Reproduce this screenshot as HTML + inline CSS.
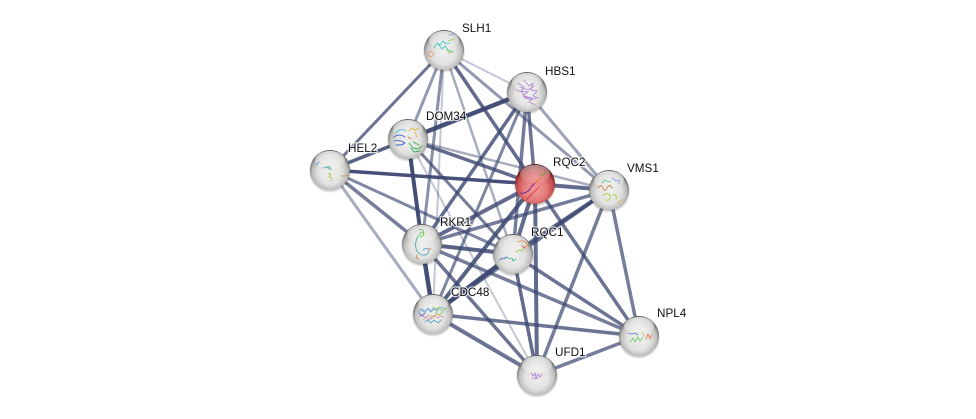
<!DOCTYPE html>
<html><head><meta charset="utf-8"><style>
html,body{margin:0;padding:0;background:#fff;width:976px;height:419px;overflow:hidden}
svg{display:block}
text{font-family:"Liberation Sans",sans-serif;font-size:11.7px;fill:#111;paint-order:stroke;stroke:#fff;stroke-width:2.5px;stroke-opacity:.75}
.a{stroke:#3b4670;fill:none}
.s{fill:none;stroke-width:.9;stroke-linecap:round;stroke-linejoin:round}
</style></head><body>
<svg width="976" height="419" viewBox="0 0 976 419" xmlns="http://www.w3.org/2000/svg">
<defs>
<radialGradient id="g" cx="50%" cy="56%" r="54%">
<stop offset="0" stop-color="#f0f0ee"/><stop offset=".55" stop-color="#e2e2e0"/><stop offset=".82" stop-color="#bdbdbb"/><stop offset=".94" stop-color="#7f7f7f"/><stop offset="1" stop-color="#5f5f5f"/>
</radialGradient>
<radialGradient id="r" cx="50%" cy="62%" r="58%">
<stop offset="0" stop-color="#f09a9a"/><stop offset=".5" stop-color="#e57c7c"/><stop offset=".8" stop-color="#bf4a4a"/><stop offset=".94" stop-color="#7f2222"/><stop offset="1" stop-color="#5f1c1c"/>
</radialGradient>
<linearGradient id="h" x1="0" y1="0" x2="0" y2="1">
<stop offset="0" stop-color="#fff" stop-opacity=".95"/><stop offset="1" stop-color="#fff" stop-opacity=".1"/>
</linearGradient>
<radialGradient id="sh" cx="50%" cy="50%" r="50%">
<stop offset=".8" stop-color="#000" stop-opacity=".35"/><stop offset="1" stop-color="#000" stop-opacity="0"/>
</radialGradient>
<g id="n"><circle r="21.5" cy="1.5" fill="url(#sh)"/><circle r="20" fill="url(#g)"/></g>
<g id="o"><ellipse cy="-10" rx="15" ry="9" fill="url(#h)" opacity=".8"/></g>
</defs>

<g class="a">
<!-- SLH1 -->
<path d="M444 50L330 170" stroke-width="3" opacity=".75"/>
<path d="M444 50L408 139" stroke-width="3" opacity=".55"/>
<path d="M444 50L422 244" stroke-width="3" opacity=".6"/>
<path d="M444 50L433 314" stroke-width="2" opacity=".3"/>
<path d="M444 50L527 92" stroke-width="2" opacity=".3"/>
<path d="M444 50L535 184" stroke-width="3.5" opacity=".8"/>
<path d="M444 50L609 190" stroke-width="3" opacity=".55"/>
<path d="M444 50L513 254" stroke-width="2.5" opacity=".45"/>
<!-- HBS1 -->
<path d="M527 92L408 139" stroke-width="4.5" opacity=".95"/>
<path d="M527 92L535 184" stroke-width="3.5" opacity=".75"/>
<path d="M527 92L513 254" stroke-width="3.5" opacity=".7"/>
<path d="M527 92L609 190" stroke-width="3" opacity=".5"/>
<path d="M527 92L422 244" stroke-width="3.5" opacity=".8"/>
<path d="M527 92L433 314" stroke-width="3" opacity=".65"/>
<!-- DOM34 -->
<path d="M408 139L330 170" stroke-width="3.5" opacity=".85"/>
<path d="M408 139L535 184" stroke-width="3.5" opacity=".8"/>
<path d="M408 139L609 190" stroke-width="2.5" opacity=".45"/>
<path d="M408 139L422 244" stroke-width="4" opacity=".95"/>
<path d="M408 139L513 254" stroke-width="3" opacity=".7"/>
<path d="M408 139L433 314" stroke-width="1.5" opacity=".3"/>
<path d="M408 139L537 375" stroke-width="2" opacity=".3"/>
<!-- HEL2 -->
<path d="M330 170L535 184" stroke-width="3.5" opacity=".95"/>
<path d="M330 170L422 244" stroke-width="3.5" opacity=".7"/>
<path d="M330 170L513 254" stroke-width="3" opacity=".65"/>
<path d="M330 170L433 314" stroke-width="3" opacity=".45"/>
<!-- RQC2 -->
<path d="M535 184L609 190" stroke-width="4" opacity=".8"/>
<path d="M535 184L422 244" stroke-width="4" opacity=".8"/>
<path d="M535 184L513 254" stroke-width="4" opacity=".8"/>
<path d="M535 184L433 314" stroke-width="4" opacity=".85"/>
<path d="M535 184L537 375" stroke-width="4" opacity=".8"/>
<path d="M535 184L639 336" stroke-width="3.5" opacity=".75"/>
<!-- VMS1 -->
<path d="M609 190L422 244" stroke-width="3.5" opacity=".7"/>
<path d="M609 190L513 254" stroke-width="4" opacity=".85"/>
<path d="M609 190L433 314" stroke-width="3.5" opacity=".7"/>
<path d="M609 190L537 375" stroke-width="3.5" opacity=".7"/>
<path d="M609 190L639 336" stroke-width="3.5" opacity=".7"/>
<!-- RKR1 -->
<path d="M422 244L513 254" stroke-width="4" opacity=".85"/>
<path d="M422 244L433 314" stroke-width="4.5" opacity=".95"/>
<path d="M422 244L537 375" stroke-width="3.5" opacity=".75"/>
<path d="M422 244L639 336" stroke-width="3.5" opacity=".7"/>
<!-- RQC1 -->
<path d="M513 254L433 314" stroke-width="4.5" opacity=".95"/>
<path d="M513 254L537 375" stroke-width="3.5" opacity=".8"/>
<path d="M513 254L639 336" stroke-width="3.5" opacity=".75"/>
<!-- CDC48 -->
<path d="M433 314L537 375" stroke-width="4" opacity=".75"/>
<path d="M433 314L639 336" stroke-width="3.5" opacity=".75"/>
<!-- UFD1 -->
<path d="M537 375L639 336" stroke-width="3.5" opacity=".7"/>
</g>

<!-- SLH1 -->
<g transform="translate(444,50)"><use href="#n"/><use href="#o"/>
<path class="s" d="M-10 -2l3 -5 3 2 3 -4 3 3 4 -1M-6 -6l4 5 3 -3 3 4 5 2" stroke="#3cc8c0" stroke-width="1.6"/>
<path class="s" d="M3 0l3 3 2 -2M4 -9l6 -2" stroke="#a6c850"/>
<circle cx="-13" cy="4" r="2.5" class="s" stroke="#d89a70"/>
<path class="s" d="M5 -15l5 -1" stroke="#8fa0e0"/>
</g>
<!-- HBS1 -->
<g transform="translate(527,92)"><use href="#n"/><use href="#o"/>
<path class="s" d="M-9 -9l6 4 -3 4 7 1 -5 4 9 2 -3 4 6 3M-3 -12l5 6 4 -3 -2 7 6 1 -4 5 5 2M-11 -2l6 2 3 6 5 1M-7 -5l8 3 6 -4M-3 4l7 4 5 -2" stroke="#b48ad8"/>
</g>
<!-- DOM34 -->
<g transform="translate(408,139)"><use href="#n"/><use href="#o"/>
<path class="s" d="M-14 -2c4 -3 8 -2 11 0M-14 2c4 -1 8 0 11 2M-12 6c4 0 7 0 9 -2" stroke="#3f62c8" stroke-width="1.4"/>
<path class="s" d="M-12 -6c3 -4 7 -4 10 -2" stroke="#45b8d8"/>
<path class="s" d="M1 -8l3 -3 3 2 3 -2M7 -7l2 5" stroke="#e8b030" stroke-width="1.2"/>
<path class="s" d="M1 4l4 5 5 1 4 -3M3 9l3 4 6 -1M5 3l6 3" stroke="#38b050" stroke-width="1.3"/>
<path class="s" d="M0 -2l3 2" stroke="#d87830"/>
</g>
<!-- HEL2 -->
<g transform="translate(330,170)"><use href="#n"/><use href="#o"/>
<path class="s" d="M-14 -5l3 -3M-7 -2l4 -1 2 2" stroke="#5aa0e0"/>
<path class="s" d="M-4 -3l4 0 1 3" stroke="#48c090"/>
<path class="s" d="M-2 3l3 1 -2 3 3 1 -1 3" stroke="#a0c848" stroke-width="1.4"/>
<path class="s" d="M11 6l4 0 3 -1" stroke="#d89060"/>
</g>
<!-- RQC2 -->
<g transform="translate(535,184)"><circle r="21.5" cy="1.5" fill="url(#sh)"/><circle r="20" fill="url(#r)"/>
<ellipse cy="-10" rx="15" ry="9" fill="url(#h)" opacity=".55"/>
<path class="s" d="M-15 9c4 1 8 -1 10 -4s3 -5 5 -6" stroke="#5a2a9a" stroke-width="2.4"/>
<path class="s" d="M-8 15l4 -4 4 -4 4 -4" stroke="#e02a2a" stroke-width="1.8" stroke-dasharray="1.5 1"/>
<path class="s" d="M0 -1l3 -3 4 -2" stroke="#e87818" stroke-width="2.2"/>
<path class="s" d="M5 -8l5 -3 3 -1" stroke="#7a9a30" stroke-width="1.4"/>
<path class="s" d="M-4 3l3 -2" stroke="#c83090" stroke-width="1.6"/>
</g>
<!-- VMS1 -->
<g transform="translate(609,190)"><use href="#n"/><use href="#o"/>
<path class="s" d="M-11 -2c2 -3 4 -3 5 0s3 3 4 0 4 -3 5 0" stroke="#c88048" stroke-width="1.5"/>
<path class="s" d="M-7 -7l3 -3 3 2 3 -1" stroke="#58c878"/>
<path class="s" d="M-6 6c2 -3 6 -3 7 0s-1 5 -4 4M3 5c3 -1 5 1 4 4" stroke="#a8d030"/>
<path class="s" d="M3 -12l4 3 3 -1 0 4" stroke="#8898e8"/>
<path class="s" d="M9 13l3 -3" stroke="#d8c030" stroke-width="1.4"/>
</g>
<!-- RKR1 -->
<g transform="translate(422,244)"><use href="#n"/><use href="#o"/>
<path class="s" d="M-3 -14c4 -2 6 2 4 5s-4 2 -3 -1 4 -2 4 1" stroke="#70d060" stroke-width="1.3"/>
<path class="s" d="M-4 -8c-3 6 -3 11 -1 15" stroke="#48b0a0"/>
<path class="s" d="M-5 7c3 4 8 6 11 2s-2 -6 -5 -3" stroke="#50a8d8"/>
<path class="s" d="M-5 11l-1 3 3 1M6 5l3 0" stroke="#e08050"/>
</g>
<!-- RQC1 -->
<g transform="translate(513,254)"><use href="#n"/><use href="#o"/>
<path class="s" d="M-13 6l2 -2 2 1 2 -2 2 1" stroke="#4878d0" stroke-width="1.2"/>
<path class="s" d="M-4 5l3 -1 1 3 3 -2" stroke="#38c088" stroke-width="1.5"/>
<path class="s" d="M3 -2l3 -2 2 1 3 -3" stroke="#a0c840" stroke-width="1.5"/>
<path class="s" d="M5 -12c3 -2 6 -1 8 1s1 4 -1 4" stroke="#e89050"/>
<path class="s" d="M9 -8l3 2" stroke="#e05040"/>
</g>
<!-- CDC48 -->
<g transform="translate(433,314)"><use href="#n"/><use href="#o"/>
<path class="s" d="M-15 -2l4 -3 3 3 3 -4 3 3 3 -3 4 2 3 -3 4 2M-13 -5l4 3 3 -3 4 3 3 -3 4 3" stroke="#8ab0d8"/>
<path class="s" d="M-14 3l3 -2 3 3 3 -3 3 3 3 -3 4 3 3 -2 3 1M-10 6l3 -3 3 3 4 -2" stroke="#d0a0b0"/>
<path class="s" d="M-8 8l3 -2 3 3 3 -3 4 3 3 -3" stroke="#60a8c8"/>
<path class="s" d="M0 -7l3 3 3 -3 3 4 4 -3M2 -2l4 3 4 -3" stroke="#90c870"/>
<path class="s" d="M-14 -1l3 3 3 -3" stroke="#6870c8"/>
<path class="s" d="M-2 1l3 2 3 -3 4 2" stroke="#d0b860"/>
</g>
<!-- NPL4 -->
<g transform="translate(639,336)"><use href="#n"/><use href="#o"/>
<path class="s" d="M-11 -3l4 1 3 -1 3 2" stroke="#5880d8"/>
<path class="s" d="M-9 6l3 -4 2 4 3 -5 2 4 3 -4" stroke="#70cc70" stroke-width="1.2"/>
<path class="s" d="M7 3l2 -5 2 5 2 -4" stroke="#e87858" stroke-width="1.3"/>
<path class="s" d="M3 -3l2 2" stroke="#d0c040"/>
</g>
<!-- UFD1 -->
<g transform="translate(537,375)"><use href="#n"/><use href="#o"/>
<path class="s" d="M-6 -2l2 3 2 -3 1 5 2 -4 2 3 2 -3M-5 3l3 1 3 -1" stroke="#b080d0" stroke-width="1.2"/>
</g>

<text x="462" y="32">SLH1</text>
<text x="545" y="75">HBS1</text>
<text x="426" y="120">DOM34</text>
<text x="348" y="152">HEL2</text>
<text x="553" y="166">RQC2</text>
<text x="627" y="172">VMS1</text>
<text x="440" y="226">RKR1</text>
<text x="531" y="236">RQC1</text>
<text x="451" y="296">CDC48</text>
<text x="657" y="317">NPL4</text>
<text x="555" y="356">UFD1</text>
</svg>
</body></html>
